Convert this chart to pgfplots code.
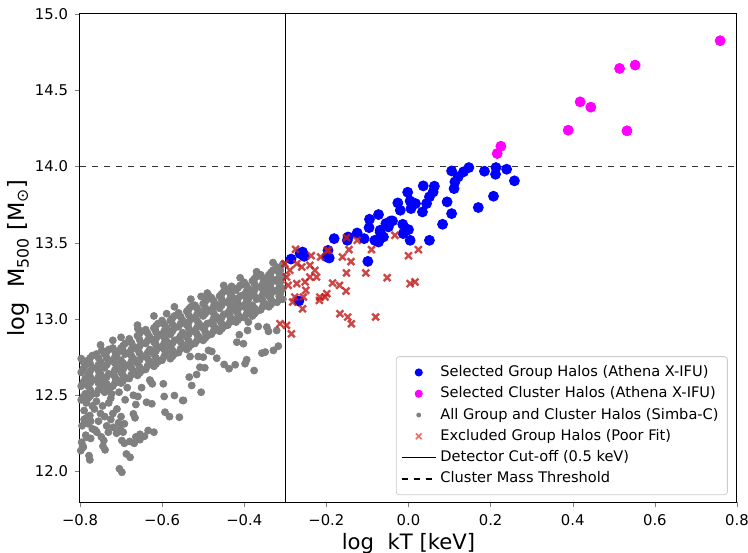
\documentclass[border=0pt]{standalone}
\usepackage{pgfplots}
\pgfplotsset{compat=1.18}
\usepackage{fontspec}
\setmainfont{DejaVu Sans}
\definecolor{mgray}{RGB}{128,128,128}
\definecolor{xred}{RGB}{195,30,30}
\definecolor{mblue}{RGB}{0,0,255}
\definecolor{mmag}{RGB}{255,0,255}
\begin{document}
\begin{tikzpicture}
\begin{axis}[
  scale only axis, width=328.5pt, height=244pt,
  xmin=-0.8, xmax=0.8, ymin=11.8, ymax=15.0,
  xtick={-0.8,-0.6,-0.4,-0.2,0.0,0.2,0.4,0.6,0.8},
  xticklabels={−0.8,−0.6,−0.4,−0.2,0.0,0.2,0.4,0.6,0.8},
  ytick={12.0,12.5,13.0,13.5,14.0,14.5,15.0},
  yticklabels={12.0,12.5,13.0,13.5,14.0,14.5,15.0},
  tick align=outside, tick pos=left, major tick length=2.5pt,
  tick label style={font=\fontsize{7.4}{9}\selectfont},
  axis line style={line width=0.5pt},
  xlabel={log\ \ kT [keV]}, ylabel={log\ \ M\textsubscript{500} [M\textsubscript{⊙}]},
  xlabel style={font=\fontsize{10.6}{12}\selectfont, yshift=3pt},
  ylabel style={font=\fontsize{11.2}{12}\selectfont, yshift=-4pt},
  legend style={at={(0.986,0.014)}, anchor=south east, font=\fontsize{7.3}{8.5}\selectfont,
    draw=black!20, rounded corners=1.5pt, row sep=-0.4pt, inner sep=2.4pt},
  legend cell align=left,
]
\addlegendimage{only marks, mark=*, mark size=1.8pt, mblue}
\addlegendentry{Selected Group Halos (Athena X-IFU)}
\addlegendimage{only marks, mark=*, mark size=1.8pt, mmag}
\addlegendentry{Selected Cluster Halos (Athena X-IFU)}
\addlegendimage{only marks, mark=*, mark size=1pt, mgray}
\addlegendentry{All Group and Cluster Halos (Simba-C)}
\addlegendimage{only marks, mark=x, mark size=2pt, red!60, line width=0.8pt}
\addlegendentry{Excluded Group Halos (Poor Fit)}
\addlegendimage{black, line width=0.6pt}
\addlegendentry{Detector Cut-off (0.5 keV)}
\addlegendimage{black, dashed, line width=0.6pt}
\addlegendentry{Cluster Mass Threshold}

% gray: all halos
\addplot[forget plot, only marks, mark=*, mark size=1.75pt, mgray, mark options={draw=mgray, fill=mgray}] coordinates {
(-0.797,12.47)(-0.787,12.51)(-0.797,12.56)(-0.787,12.61)(-0.797,12.65)(-0.787,12.70)(-0.797,12.74)
(-0.78,12.48)(-0.77,12.51)(-0.78,12.56)(-0.77,12.60)(-0.78,12.64)(-0.77,12.68)(-0.78,12.73)(-0.77,12.76)
(-0.76,12.51)(-0.75,12.56)(-0.76,12.60)(-0.75,12.64)(-0.76,12.68)(-0.75,12.72)(-0.76,12.77)
(-0.74,12.52)(-0.73,12.55)(-0.74,12.60)(-0.73,12.64)(-0.74,12.68)(-0.73,12.72)(-0.74,12.77)(-0.73,12.80)
(-0.72,12.56)(-0.71,12.60)(-0.72,12.64)(-0.71,12.69)(-0.72,12.73)(-0.71,12.77)(-0.72,12.81)
(-0.70,12.58)(-0.69,12.61)(-0.70,12.65)(-0.69,12.69)(-0.70,12.73)(-0.69,12.77)(-0.70,12.81)(-0.69,12.84)
(-0.68,12.61)(-0.67,12.66)(-0.68,12.70)(-0.67,12.74)(-0.68,12.78)(-0.67,12.82)(-0.68,12.87)
(-0.66,12.63)(-0.65,12.66)(-0.66,12.71)(-0.65,12.75)(-0.66,12.80)(-0.65,12.84)(-0.66,12.89)(-0.65,12.92)
(-0.64,12.67)(-0.63,12.72)(-0.64,12.76)(-0.63,12.80)(-0.64,12.84)(-0.63,12.88)(-0.64,12.93)
(-0.62,12.69)(-0.61,12.72)(-0.62,12.77)(-0.61,12.81)(-0.62,12.85)(-0.61,12.89)(-0.62,12.94)(-0.61,12.97)
(-0.60,12.73)(-0.59,12.78)(-0.60,12.82)(-0.59,12.86)(-0.60,12.90)(-0.59,12.94)(-0.60,12.99)
(-0.58,12.74)(-0.57,12.77)(-0.58,12.82)(-0.57,12.86)(-0.58,12.90)(-0.57,12.94)(-0.58,12.99)(-0.57,13.02)
(-0.56,12.78)(-0.55,12.83)(-0.56,12.87)(-0.55,12.91)(-0.56,12.95)(-0.55,12.99)(-0.56,13.04)
(-0.54,12.80)(-0.53,12.83)(-0.54,12.88)(-0.53,12.92)(-0.54,12.96)(-0.53,13.00)(-0.54,13.05)(-0.53,13.08)
(-0.52,12.84)(-0.51,12.88)(-0.52,12.92)(-0.51,12.97)(-0.52,13.01)(-0.51,13.05)(-0.52,13.09)
(-0.50,12.86)(-0.49,12.89)(-0.50,12.94)(-0.49,12.97)(-0.50,13.02)(-0.49,13.05)(-0.50,13.10)(-0.49,13.13)
(-0.48,12.90)(-0.47,12.94)(-0.48,12.98)(-0.47,13.02)(-0.48,13.06)(-0.47,13.10)(-0.48,13.14)
(-0.46,12.92)(-0.45,12.95)(-0.46,12.99)(-0.45,13.03)(-0.46,13.07)(-0.45,13.11)(-0.46,13.15)(-0.45,13.18)
(-0.44,12.96)(-0.43,13.00)(-0.44,13.04)(-0.43,13.08)(-0.44,13.11)(-0.43,13.15)(-0.44,13.19)
(-0.42,12.98)(-0.41,13.01)(-0.42,13.05)(-0.41,13.08)(-0.42,13.12)(-0.41,13.15)(-0.42,13.19)(-0.41,13.22)
(-0.40,13.01)(-0.39,13.05)(-0.40,13.09)(-0.39,13.13)(-0.40,13.16)(-0.39,13.20)(-0.40,13.24)
(-0.38,13.02)(-0.37,13.05)(-0.38,13.09)(-0.37,13.13)(-0.38,13.17)(-0.37,13.21)(-0.38,13.25)(-0.37,13.28)
(-0.36,13.06)(-0.35,13.10)(-0.36,13.14)(-0.35,13.18)(-0.36,13.21)(-0.35,13.25)(-0.36,13.29)
(-0.34,13.08)(-0.33,13.11)(-0.34,13.15)(-0.33,13.18)(-0.34,13.22)(-0.33,13.25)(-0.34,13.29)(-0.33,13.32)
(-0.32,13.11)(-0.315,13.15)(-0.32,13.19)(-0.315,13.23)(-0.32,13.26)(-0.315,13.30)(-0.32,13.34)
(-0.306,13.13)(-0.306,13.20)(-0.306,13.28)(-0.306,13.36)
(-0.792,12.49)(-0.792,12.585)(-0.792,12.675)(-0.792,12.72)
(-0.775,12.495)(-0.775,12.535)(-0.775,12.58)(-0.775,12.62)(-0.775,12.66)(-0.775,12.705)(-0.775,12.745)
(-0.755,12.535)(-0.755,12.58)(-0.755,12.62)(-0.755,12.66)(-0.755,12.70)(-0.755,12.745)
(-0.735,12.535)(-0.735,12.575)(-0.735,12.62)(-0.735,12.70)(-0.735,12.745)(-0.735,12.785)
(-0.715,12.58)(-0.715,12.62)(-0.715,12.665)(-0.715,12.71)(-0.715,12.75)(-0.715,12.79)
(-0.695,12.595)(-0.695,12.63)(-0.695,12.67)(-0.695,12.71)(-0.695,12.79)(-0.695,12.825)
(-0.675,12.635)(-0.675,12.68)(-0.675,12.72)(-0.675,12.76)(-0.675,12.80)(-0.675,12.845)
(-0.655,12.645)(-0.655,12.685)(-0.655,12.73)(-0.655,12.775)(-0.655,12.82)(-0.655,12.865)(-0.655,12.905)
(-0.635,12.695)(-0.635,12.74)(-0.635,12.78)(-0.635,12.86)(-0.635,12.905)
(-0.615,12.705)(-0.615,12.745)(-0.615,12.79)(-0.615,12.83)(-0.615,12.87)(-0.615,12.915)(-0.615,12.955)
(-0.595,12.755)(-0.595,12.80)(-0.595,12.84)(-0.595,12.88)(-0.595,12.92)(-0.595,12.965)
(-0.575,12.755)(-0.575,12.795)(-0.575,12.84)(-0.575,12.92)(-0.575,12.965)(-0.575,13.005)
(-0.555,12.805)(-0.555,12.85)(-0.555,12.89)(-0.555,12.97)(-0.555,13.015)
(-0.535,12.815)(-0.535,12.855)(-0.535,12.90)(-0.535,12.94)(-0.535,12.98)(-0.535,13.025)(-0.535,13.065)
(-0.515,12.86)(-0.515,12.90)(-0.515,12.945)(-0.515,12.99)(-0.515,13.03)(-0.515,13.07)
(-0.495,12.875)(-0.495,12.915)(-0.495,12.955)(-0.495,13.035)(-0.495,13.075)(-0.495,13.115)
(-0.475,12.92)(-0.475,12.96)(-0.475,13.00)(-0.475,13.04)(-0.475,13.08)(-0.475,13.12)
(-0.455,12.935)(-0.455,12.97)(-0.455,13.01)(-0.455,13.09)(-0.455,13.13)(-0.455,13.165)
(-0.435,12.98)(-0.435,13.02)(-0.435,13.06)(-0.435,13.095)(-0.435,13.13)(-0.435,13.17)
(-0.415,12.995)(-0.415,13.03)(-0.415,13.065)(-0.415,13.10)(-0.415,13.135)(-0.415,13.205)
(-0.395,13.03)(-0.395,13.07)(-0.395,13.11)(-0.395,13.145)(-0.395,13.18)(-0.395,13.22)
(-0.375,13.035)(-0.375,13.07)(-0.375,13.15)(-0.375,13.19)(-0.375,13.23)(-0.375,13.265)
(-0.355,13.08)(-0.355,13.12)(-0.355,13.16)(-0.355,13.195)(-0.355,13.23)(-0.355,13.27)
(-0.335,13.095)(-0.335,13.13)(-0.335,13.165)(-0.335,13.20)(-0.335,13.235)(-0.335,13.27)(-0.335,13.305)
(-0.312,13.13)(-0.312,13.17)(-0.312,13.21)(-0.312,13.245)(-0.312,13.28)(-0.312,13.32)
(-0.505,12.52)(-0.698,11.995)(-0.678,12.093)(-0.620,12.258)(-0.643,12.231)(-0.654,12.209)(-0.668,12.185)
(-0.692,12.185)(-0.739,12.142)(-0.776,12.076)(-0.742,12.203)(-0.593,12.389)(-0.582,12.360)(-0.558,12.356)
(-0.550,12.466)(-0.570,12.498)(-0.595,12.492)(-0.625,12.444)(-0.638,12.454)(-0.659,12.492)(-0.664,12.439)
(-0.670,12.378)(-0.666,12.352)(-0.692,12.313)(-0.695,12.258)(-0.719,12.29)(-0.731,12.258)(-0.711,12.251)
(-0.759,12.258)(-0.780,12.313)(-0.788,12.345)(-0.776,12.367)(-0.784,12.225)(-0.796,12.192)(-0.792,12.159)
(-0.798,12.137)
(-0.376,12.662)(-0.398,12.707)(-0.394,12.733)(-0.422,12.700)(-0.437,12.674)(-0.449,12.702)(-0.467,12.743)
(-0.496,12.680)(-0.508,12.684)(-0.516,12.636)(-0.534,12.619)(-0.528,12.564)(-0.548,12.466)(-0.624,12.575)
(-0.628,12.590)(-0.329,12.794)(-0.317,12.822)(-0.349,12.783)(-0.357,12.776)(-0.321,12.925)(-0.341,12.919)
(-0.345,12.947)(-0.366,12.951)(-0.390,12.980)(-0.392,12.925)(-0.412,12.897)(-0.402,12.838)(-0.418,12.848)
(-0.479,12.787)(-0.487,12.794)(-0.532,12.754)(-0.512,12.754)(-0.500,12.750)(-0.597,12.575)(-0.723,12.509)
(-0.780,12.575)
(-0.370,13.280)(-0.431,13.214)(-0.505,13.148)(-0.487,13.155)(-0.589,13.035)(-0.659,12.936)(-0.747,12.794)
(-0.788,12.717)(-0.318,13.326)
(-0.790,12.341)(-0.774,12.330)(-0.786,12.238)(-0.774,12.217)(-0.793,12.166)(-0.778,12.104)(-0.748,12.227)
(-0.744,12.166)(-0.763,12.272)(-0.735,12.299)(-0.725,12.341)(-0.706,12.320)(-0.702,12.279)(-0.698,12.203)
(-0.679,12.197)(-0.664,12.227)(-0.654,12.244)(-0.687,12.115)(-0.704,12.018)(-0.634,12.269)
(-0.79,12.40)(-0.77,12.43)(-0.75,12.38)(-0.73,12.45)(-0.71,12.41)(-0.69,12.47)(-0.67,12.50)(-0.65,12.55)
(-0.63,12.60)(-0.78,12.36)(-0.76,12.46)
(-0.785,12.45)(-0.765,12.41)(-0.745,12.43)(-0.725,12.48)(-0.705,12.52)(-0.685,12.55)(-0.795,12.30)
(-0.77,12.28)(-0.755,12.33)(-0.74,12.36)(-0.72,12.38)(-0.70,12.36)
(-0.75,12.83)(-0.72,12.86)(-0.70,12.88)(-0.66,12.96)(-0.62,13.02)(-0.57,13.08)(-0.53,13.13)(-0.49,13.17)
(-0.45,13.22)(-0.41,13.27)(-0.37,13.31)(-0.33,13.37)
};

% blue: selected group halos
\addplot[forget plot, only marks, mark=*, mark size=2.5pt, mblue] coordinates {
(0.105,13.971)(0.147,13.993)(0.134,13.965)(0.121,13.932)(0.113,13.899)(0.111,13.855)(0.185,13.969)
(0.213,13.993)(0.212,13.949)(0.239,13.982)(0.258,13.906)(0.036,13.873)(0.063,13.871)(0.060,13.833)
(0.051,13.801)(0.044,13.757)(-0.002,13.831)(-0.026,13.761)(0.004,13.774)(0.017,13.757)(0.006,13.724)
(-0.020,13.713)(0.034,13.702)(0.094,13.768)(0.105,13.691)(0.170,13.731)(0.207,13.805)(0.083,13.621)
(0.051,13.516)(0.004,13.516)(-0.014,13.621)(0.000,13.586)(-0.013,13.560)(-0.043,13.643)(-0.055,13.626)
(-0.073,13.685)(-0.095,13.654)(-0.096,13.599)(-0.069,13.569)(-0.061,13.538)(-0.073,13.505)(-0.082,13.516)
(-0.125,13.564)(-0.147,13.538)(-0.149,13.516)(-0.181,13.527)(-0.108,13.527)(-0.099,13.378)(-0.196,13.450)
(-0.199,13.407)(-0.193,13.400)(-0.258,13.439)(-0.254,13.411)(-0.264,13.429)(-0.286,13.393)(-0.267,13.118)
(-0.069,13.582)(-0.049,13.604)(-0.039,13.643)
};

% magenta: selected cluster halos
\addplot[forget plot, only marks, mark=*, mark size=2.5pt, mmag] coordinates {
(0.759,14.825)(0.514,14.643)(0.552,14.665)(0.418,14.424)(0.444,14.389)(0.389,14.238)(0.532,14.234)
(0.225,14.133)(0.216,14.085)
};

% red: excluded group halos
\addplot[forget plot, only marks, mark=x, mark size=2.4pt, xred, line width=1.2pt, opacity=0.82] coordinates {
(-0.275,13.457)(-0.237,13.415)(-0.214,13.407)(-0.195,13.450)(-0.161,13.407)(-0.145,13.455)(-0.140,13.376)
(-0.151,13.302)(-0.185,13.236)(-0.168,13.221)(-0.152,13.183)(-0.199,13.166)(-0.216,13.144)(-0.217,13.122)
(-0.203,13.144)(-0.250,13.188)(-0.258,13.067)(-0.282,13.111)(-0.167,13.035)(-0.148,13.013)(-0.139,12.969)
(-0.080,13.013)(-0.104,13.302)(-0.052,13.271)(0.004,13.232)(0.016,13.243)(0.000,13.415)(0.024,13.455)
(-0.033,13.549)(-0.090,13.455)(-0.125,13.516)(-0.151,13.534)(-0.198,13.450)(-0.240,13.352)(-0.228,13.319)
(-0.224,13.275)(-0.260,13.341)(-0.272,13.363)(-0.289,13.319)(-0.297,13.275)(-0.293,13.221)(-0.272,13.232)
(-0.252,13.243)(-0.240,13.275)(-0.313,12.969)(-0.297,12.958)(-0.285,12.903)(-0.301,13.363)(-0.256,13.144)
(-0.277,13.144)
};

% lines
\addplot[forget plot, black, line width=0.6pt] coordinates {(-0.3,11.8)(-0.3,15.0)};
\addplot[forget plot, black!80, dashed, line width=0.6pt] coordinates {(-0.8,14.0)(0.8,14.0)};
\end{axis}
\pgfresetboundingbox
\path[use as bounding box] (-40pt,-25pt) rectangle (334pt,251pt);
\end{tikzpicture}
\end{document}
